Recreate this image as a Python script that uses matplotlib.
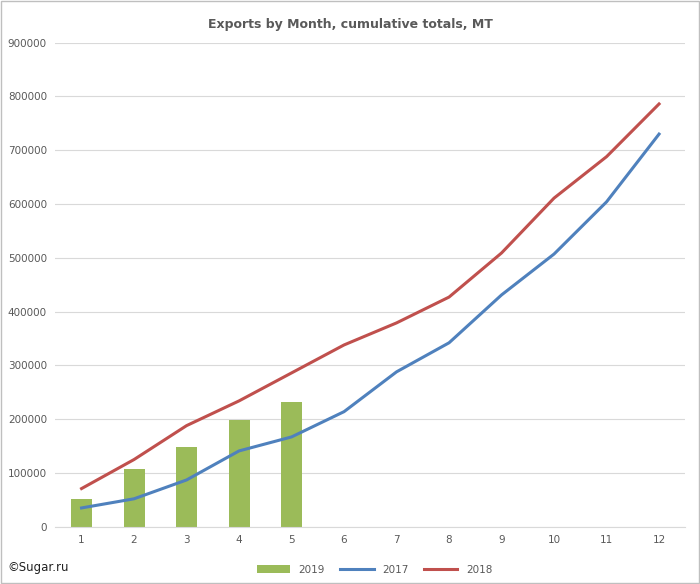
import matplotlib
matplotlib.use("Agg")
import matplotlib.pyplot as plt
import numpy as np

months = [1,2,3,4,5,6,7,8,9,10,11,12]
exports_2019 = [52000,108000,149000,199000,232000]
exports_2017 = [35000,52000,87000,141000,167000,214000,288000,342000,431000,507000,604000,730000]
exports_2018 = [71000,125000,188000,234000,286000,338000,379000,427000,509000,611000,688000,786000]
yticks = list(range(0,900001,100000))

fig = plt.figure(figsize=(7,5.84), dpi=100)
ax = fig.add_axes([0.079, 0.098, 0.900, 0.829])
x = np.arange(len(months))
b = ax.bar(x[:len(exports_2019)], exports_2019, width=0.4, color="#9BBB59", label="2019", zorder=2)
l1, = ax.plot(x, exports_2017, color="#4F81BD", lw=2.2, label="2017", zorder=3)
l2, = ax.plot(x, exports_2018, color="#C0504D", lw=2.2, label="2018", zorder=3)
ax.set_xlim(-0.5, 11.5)
ax.set_ylim(0, 900000)
ax.set_yticks(yticks)
ax.set_yticklabels([str(v) for v in yticks])
ax.set_xticks(x)
ax.set_xticklabels([str(m) for m in months])
ax.grid(axis="y", color="#D9D9D9", lw=0.8, zorder=0)
for s in ["top","right","left"]:
    ax.spines[s].set_visible(False)
ax.spines["bottom"].set_color("#D9D9D9")
ax.tick_params(length=0, labelsize=7.5, colors="#595959", pad=6)
fig.suptitle("Exports by Month, cumulative totals, MT", y=0.97, fontsize=9, fontweight="bold", color="#595959")
fig.legend([b, l1, l2], ["2019", "2017", "2018"], loc="lower center", bbox_to_anchor=(0.535, 0.0), ncol=3,
           frameon=False, fontsize=7.5, labelcolor="#595959", handlelength=3.2, columnspacing=1.5)
fig.text(0.01, 0.022, "©Sugar.ru", fontsize=8.5, color="#222222")
fig.patches.append(matplotlib.patches.Rectangle((0.001,0.001),0.998,0.998, transform=fig.transFigure,
                   fill=False, edgecolor="#BFBFBF", lw=1))
fig.savefig("out.png", dpi=100)
